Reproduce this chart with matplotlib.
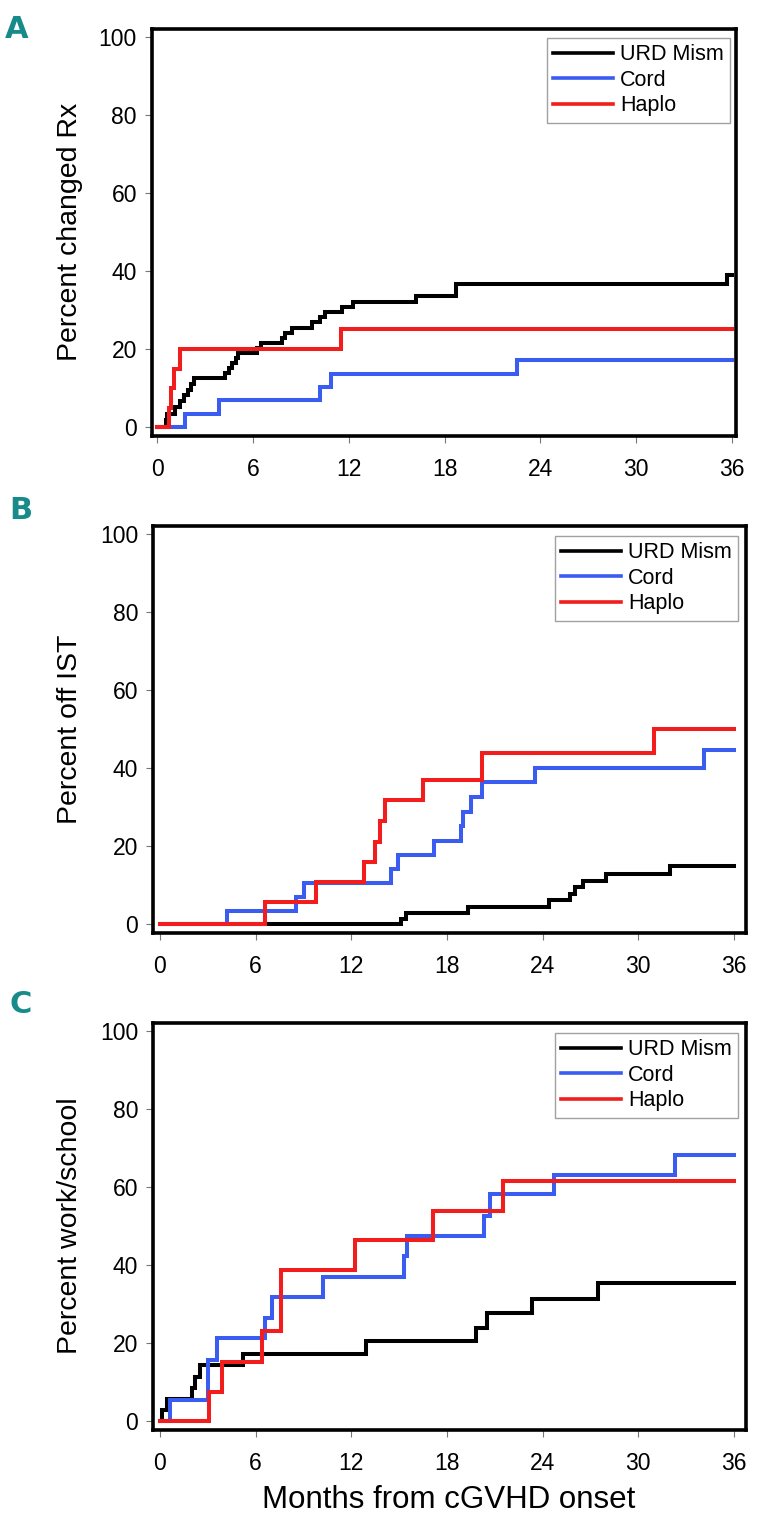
import matplotlib
matplotlib.use('Agg')
import matplotlib.pyplot as plt

plt.rcParams['font.family'] = ['Liberation Sans', 'DejaVu Sans']

# ---------------- data ----------------
month_ticks = [0, 6, 12, 18, 24, 30, 36]
pct_ticks = [0, 20, 40, 60, 80, 100]
series_names = ['URD Mism', 'Cord', 'Haplo']
series_colors = ['#000000', '#3b5cf0', '#f21e1e']
panel_letters = ['A', 'B', 'C']
panel_ylabels = ['Percent changed Rx', 'Percent off IST', 'Percent work/school']
xlabel_text = 'Months from cGVHD onset'

# Panel A: percent changed Rx
a_urd_t = [0, 0.55, 0.62, 1.10, 1.41, 1.72, 1.93, 2.13, 2.34, 4.26, 4.51, 4.72, 4.93,
           5.09, 6.27, 6.48, 7.83, 8.03, 8.45, 9.69, 10.2, 10.5, 11.6, 12.3, 16.2, 18.7,
           35.7, 36.0]
a_urd_y = [0, 1.7, 3.4, 5.2, 6.6, 8.2, 9.6, 11.0, 12.5, 13.8, 15.1, 16.4, 17.7,
           19.0, 20.3, 21.6, 22.9, 24.2, 25.5, 26.8, 28.1, 29.4, 30.7, 32.0, 33.7, 36.6,
           39.0, 39.0]
a_cord_t = [0, 1.76, 3.9, 10.2, 10.9, 22.55, 36.0]
a_cord_y = [0, 3.3, 6.8, 10.3, 13.7, 17.1, 17.1]
a_haplo_t = [0, 0.75, 0.85, 1.05, 1.45, 11.5, 36.0]
a_haplo_y = [0, 5.0, 10.0, 15.0, 20.0, 25.2, 25.2]

# Panel B: percent off IST
b_urd_t = [0, 15.1, 15.4, 19.3, 24.4, 25.7, 26.0, 26.5, 28.0, 32.0, 36.0]
b_urd_y = [0, 1.3, 2.8, 4.4, 6.1, 7.7, 9.5, 11.1, 12.9, 15.0, 15.0]
b_cord_t = [0, 4.2, 8.5, 9.0, 14.5, 14.9, 17.2, 18.9, 19.0, 19.5, 20.2, 23.5, 34.1, 36.0]
b_cord_y = [0, 3.4, 6.9, 10.5, 14.0, 17.8, 21.3, 25.1, 28.8, 32.6, 36.4, 40.1, 44.6, 44.6]
b_haplo_t = [0, 6.6, 9.8, 12.8, 13.5, 13.8, 14.1, 16.5, 20.2, 31.0, 36.0]
b_haplo_y = [0, 5.6, 10.7, 15.9, 21.0, 26.4, 31.8, 36.9, 43.8, 50.1, 50.1]

# Panel C: percent work/school
c_urd_t = [0, 0.15, 0.42, 2.0, 2.2, 2.5, 5.2, 12.9, 19.8, 20.5, 23.3, 27.5, 36.0]
c_urd_y = [0, 2.9, 5.7, 8.5, 11.3, 14.3, 17.1, 20.4, 23.8, 27.8, 31.2, 35.3, 35.3]
c_cord_t = [0, 0.6, 3.0, 3.6, 6.6, 7.0, 10.2, 15.3, 15.5, 20.3, 20.7, 24.7, 32.3, 36.0]
c_cord_y = [0, 5.5, 15.7, 21.3, 26.3, 31.9, 36.9, 42.2, 47.5, 52.5, 58.1, 63.2, 68.3, 68.3]
c_haplo_t = [0, 3.07, 3.9, 6.37, 7.6, 12.2, 17.1, 21.5, 36.0]
c_haplo_y = [0, 7.5, 15.2, 23.0, 38.6, 46.4, 53.9, 61.5, 61.5]

panels = [
    [(a_urd_t, a_urd_y), (a_cord_t, a_cord_y), (a_haplo_t, a_haplo_y)],
    [(b_urd_t, b_urd_y), (b_cord_t, b_cord_y), (b_haplo_t, b_haplo_y)],
    [(c_urd_t, c_urd_y), (c_cord_t, c_cord_y), (c_haplo_t, c_haplo_y)],
]

# ---------------- layout (pixels) ----------------
W, H = 759, 1525
fig = plt.figure(figsize=(W / 100, H / 100), dpi=100)

boxes = [
    dict(l=152, r=736, t=29, b=436, x0=157, x36=732, y0=427, y100=37,
         letter_xy=(17, 29), leg_dx=6, leg_dy=9),
    dict(l=153, r=746, t=526, b=933, x0=160, x36=734, y0=924, y100=534,
         letter_xy=(21, 511), leg_dx=8, leg_dy=10),
    dict(l=153, r=746, t=1023, b=1430, x0=160, x36=734, y0=1421, y100=1031,
         letter_xy=(21, 1004), leg_dx=8, leg_dy=10),
]
teal = '#178a8a'

for i, bx in enumerate(boxes):
    ax = fig.add_axes([bx['l'] / W, 1 - bx['b'] / H, (bx['r'] - bx['l']) / W,
                       (bx['b'] - bx['t']) / H])
    pxm = (bx['x36'] - bx['x0']) / 36.0
    pyu = (bx['y0'] - bx['y100']) / 100.0
    ax.set_xlim(-(bx['x0'] - bx['l']) / pxm, 36 + (bx['r'] - bx['x36']) / pxm)
    ax.set_ylim(-(bx['b'] - bx['y0']) / pyu, 100 + (bx['y100'] - bx['t']) / pyu)

    for (t, y), name, col in zip(panels[i], series_names, series_colors):
        ax.step(t, y, where='post', color=col, lw=2.9, label=name, solid_joinstyle='miter')

    for s in ax.spines.values():
        s.set_linewidth(2.6)
        s.set_color('#000000')
    ax.set_xticks(month_ticks)
    ax.set_yticks(pct_ticks)
    ax.tick_params(axis='both', direction='out', length=5, width=0.8, color='#777777',
                   labelsize=16.5)
    ax.tick_params(axis='y', pad=5.8)
    ax.tick_params(axis='x', pad=11)

    aw = bx['r'] - bx['l']
    ah = bx['b'] - bx['t']
    leg = ax.legend(loc='upper right',
                    bbox_to_anchor=(1 - bx['leg_dx'] / aw, 1 - bx['leg_dy'] / ah),
                    borderaxespad=0, frameon=True, fancybox=False, fontsize=15.5,
                    handlelength=2.8, handletextpad=0.3, labelspacing=0.2, borderpad=0.3)
    fr = leg.get_frame()
    fr.set_edgecolor('#8a8a8a')
    fr.set_linewidth(1.0)
    for ln in leg.get_lines():
        ln.set_linewidth(2.6)

    fig.text(70 / W, 1 - ((bx['y0'] + bx['y100']) / 2) / H, panel_ylabels[i], rotation=90,
             ha='center', va='center', fontsize=20.5)
    fig.text(bx['letter_xy'][0] / W, 1 - bx['letter_xy'][1] / H, panel_letters[i],
             ha='center', va='center', fontsize=22, fontweight='bold', color=teal,
             family=['Liberation Sans Narrow', 'DejaVu Sans'])

fig.text(449 / W, 1 - 1500 / H, xlabel_text, ha='center', va='center', fontsize=22.5)

fig.savefig('out.png', dpi=100)
